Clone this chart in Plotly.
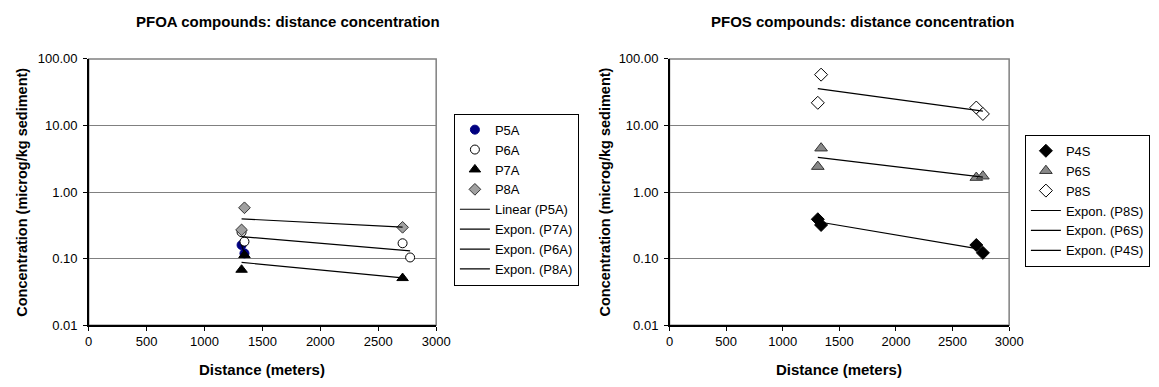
import numpy as np
import plotly.graph_objects as go

# ---------------- data ----------------
# PFOA chart
p5a_x = [1320, 1345]
p5a_y = [0.16, 0.12]
p6a_x = [1320, 1345, 2710, 2775]
p6a_y = [0.25, 0.18, 0.17, 0.104]
p7a_x = [1320, 1345, 2710]
p7a_y = [0.068, 0.113, 0.051]
p8a_x = [1320, 1345, 2710]
p8a_y = [0.27, 0.58, 0.295]

# PFOS chart
p4s_x = [1310, 1339, 2710, 2768]
p4s_y = [0.39, 0.32, 0.16, 0.122]
p6s_x = [1310, 1339, 2710, 2768]
p6s_y = [2.41, 4.56, 1.65, 1.73]
p8s_x = [1310, 1339, 2710, 2768]
p8s_y = [21.9, 58.0, 18.6, 14.9]

x_ticks = [0, 500, 1000, 1500, 2000, 2500, 3000]
y_ticks = [0.01, 0.1, 1, 10, 100]
y_ticktext = ["0.01", "0.10", "1.00", "10.00", "100.00"]

title_left = "PFOA compounds: distance concentration"
title_right = "PFOS compounds: distance concentration"
x_title = "Distance (meters)"
y_title = "Concentration (microg/kg sediment)"

# ---------------- helpers ----------------
W, H = 1159, 387
FONT = "Arial, Liberation Sans, sans-serif"


def px_x(p):
    return p / W


def px_y(p):
    return 1 - p / H


def expon_trend(xs, ys):
    b, a = np.polyfit(np.array(xs, float), np.log(np.array(ys, float)), 1)
    xx = np.array([min(xs), max(xs)], float)
    return xx, np.exp(a + b * xx)


def linear_trend(xs, ys):
    b, a = np.polyfit(np.array(xs, float), np.array(ys, float), 1)
    xx = np.array([min(xs), max(xs)], float)
    return xx, a + b * xx


fig = go.Figure()

MS = 9
LINE = dict(color="black", width=1.2)

# left chart markers
fig.add_trace(go.Scatter(x=p5a_x, y=p5a_y, mode="markers", name="P5A", legend="legend",
                         marker=dict(symbol="circle", size=MS, color="#000080",
                                     line=dict(color="#000080", width=1)),
                         xaxis="x", yaxis="y"))
fig.add_trace(go.Scatter(x=p6a_x, y=p6a_y, mode="markers", name="P6A", legend="legend",
                         marker=dict(symbol="circle", size=MS, color="white",
                                     line=dict(color="black", width=1)),
                         xaxis="x", yaxis="y"))
fig.add_trace(go.Scatter(x=p7a_x, y=p7a_y, mode="markers", name="P7A", legend="legend",
                         marker=dict(symbol="triangle-up", size=MS + 1, color="black",
                                     line=dict(color="black", width=1)),
                         xaxis="x", yaxis="y"))
fig.add_trace(go.Scatter(x=p8a_x, y=p8a_y, mode="markers", name="P8A", legend="legend",
                         marker=dict(symbol="diamond", size=MS, color="#a0a0a0",
                                     line=dict(color="#333333", width=1)),
                         xaxis="x", yaxis="y"))
tx, ty = linear_trend(p5a_x, p5a_y)
fig.add_trace(go.Scatter(x=tx, y=ty, mode="lines", name="Linear (P5A)", legend="legend",
                         line=LINE, xaxis="x", yaxis="y"))
tx, ty = expon_trend(p7a_x, p7a_y)
fig.add_trace(go.Scatter(x=tx, y=ty, mode="lines", name="Expon. (P7A)", legend="legend",
                         line=LINE, xaxis="x", yaxis="y"))
tx, ty = expon_trend(p6a_x, p6a_y)
fig.add_trace(go.Scatter(x=tx, y=ty, mode="lines", name="Expon. (P6A)", legend="legend",
                         line=LINE, xaxis="x", yaxis="y"))
tx, ty = expon_trend(p8a_x, p8a_y)
fig.add_trace(go.Scatter(x=tx, y=ty, mode="lines", name="Expon. (P8A)", legend="legend",
                         line=LINE, xaxis="x", yaxis="y"))

# right chart markers
fig.add_trace(go.Scatter(x=p4s_x, y=p4s_y, mode="markers", name="P4S", legend="legend2",
                         marker=dict(symbol="diamond", size=MS + 1, color="black",
                                     line=dict(color="black", width=1)),
                         xaxis="x2", yaxis="y2"))
fig.add_trace(go.Scatter(x=p6s_x, y=p6s_y, mode="markers", name="P6S", legend="legend2",
                         marker=dict(symbol="triangle-up", size=MS + 2, color="#888888",
                                     line=dict(color="#333333", width=1)),
                         xaxis="x2", yaxis="y2"))
fig.add_trace(go.Scatter(x=p8s_x, y=p8s_y, mode="markers", name="P8S", legend="legend2",
                         marker=dict(symbol="diamond", size=MS + 1, color="white",
                                     line=dict(color="black", width=1)),
                         xaxis="x2", yaxis="y2"))
tx, ty = expon_trend(p8s_x, p8s_y)
fig.add_trace(go.Scatter(x=tx, y=ty, mode="lines", name="Expon. (P8S)", legend="legend2",
                         line=LINE, xaxis="x2", yaxis="y2"))
tx, ty = expon_trend(p6s_x, p6s_y)
fig.add_trace(go.Scatter(x=tx, y=ty, mode="lines", name="Expon. (P6S)", legend="legend2",
                         line=LINE, xaxis="x2", yaxis="y2"))
tx, ty = expon_trend(p4s_x, p4s_y)
fig.add_trace(go.Scatter(x=tx, y=ty, mode="lines", name="Expon. (P4S)", legend="legend2",
                         line=LINE, xaxis="x2", yaxis="y2"))

# ---------------- axes ----------------
ydom = [px_y(331), px_y(54)]
xdom_l = [px_x(86), px_x(439)]
xdom_r = [px_x(676), px_x(1021)]

xcommon = dict(range=[0, 3000], tickvals=x_ticks, ticks="outside", ticklen=4,
               tickcolor="black", showgrid=False, zeroline=False, showline=True,
               linecolor="black", linewidth=1.5, fixedrange=True,
               tickfont=dict(family=FONT, size=13, color="black"))
ycommon = dict(type="log", range=[-2, 2], tickvals=y_ticks, ticktext=y_ticktext,
               ticks="outside", ticklen=4, tickcolor="black", showgrid=True,
               gridcolor="#808080", gridwidth=1, zeroline=False, showline=True,
               linecolor="black", linewidth=1.5, fixedrange=True, ticklabelstandoff=3,
               tickfont=dict(family=FONT, size=13, color="black"))

LEGFONT = dict(family=FONT, size=13, color="black")
fig.update_layout(
    width=W, height=H,
    margin=dict(l=0, r=0, t=0, b=0),
    paper_bgcolor="white", plot_bgcolor="white",
    font=dict(family=FONT, color="black"),
    xaxis=dict(domain=xdom_l, anchor="y", **xcommon),
    yaxis=dict(domain=ydom, anchor="x", **ycommon),
    xaxis2=dict(domain=xdom_r, anchor="y2", **xcommon),
    yaxis2=dict(domain=ydom, anchor="x2", **ycommon),
    legend=dict(x=px_x(457), y=px_y(111), xanchor="left", yanchor="top",
                bordercolor="black", borderwidth=1, bgcolor="white",
                font=LEGFONT, itemwidth=30, tracegroupgap=0),
    legend2=dict(x=px_x(1037), y=px_y(133), xanchor="left", yanchor="top",
                 bordercolor="black", borderwidth=1, bgcolor="white",
                 font=LEGFONT, itemwidth=30, tracegroupgap=0),
    showlegend=True,
)

# plot-area border (grey)
for xr, yr in (("x domain", "y domain"), ("x2 domain", "y2 domain")):
    fig.add_shape(type="rect", xref=xr, yref=yr, x0=0, x1=1, y0=0, y1=1,
                  line=dict(color="#808080", width=1.5), layer="below")

# titles and axis titles
ann = []
tfont = dict(family=FONT, size=15, color="black")
yfont = dict(family=FONT, size=14.5, color="black")
for cx, ttl, xc, ytx in ((288, title_left, (86 + 439) / 2, 18),
                         (872, title_right, (676 + 1021) / 2, 611)):
    ann.append(dict(text="<b>%s</b>" % ttl, x=px_x(cx), y=px_y(15), xref="paper", yref="paper",
                    xanchor="center", yanchor="middle", showarrow=False, font=tfont))
    ann.append(dict(text="<b>%s</b>" % x_title, x=px_x(xc), y=px_y(377), xref="paper", yref="paper",
                    xanchor="center", yanchor="middle", showarrow=False, font=tfont))
    ann.append(dict(text="<b>%s</b>" % y_title, x=px_x(ytx), y=px_y(192.5), xref="paper", yref="paper",
                    xanchor="center", yanchor="middle", showarrow=False, textangle=-90, font=yfont))
fig.update_layout(annotations=ann)

fig.write_html("out.html",
               config={"displayModeBar": False, "staticPlot": True},
               post_script="document.body.style.margin='0';document.body.style.padding='0';"
                           "document.body.style.overflow='hidden';")
